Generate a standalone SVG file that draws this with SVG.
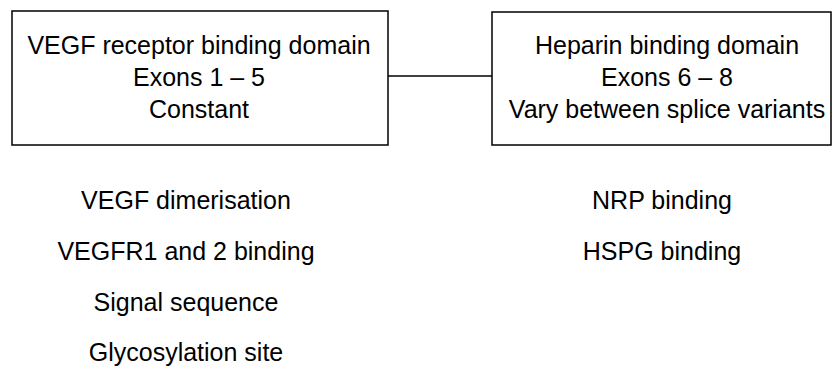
<svg xmlns="http://www.w3.org/2000/svg" width="832" height="367" viewBox="0 0 832 367">
<style>
.box{fill:#fff;stroke:#000;stroke-width:1.5}
.t{font-family:"Liberation Sans",Arial,sans-serif;font-size:25px;fill:#000;text-anchor:middle}
.c{stroke:#000;stroke-width:1.5;fill:none}
</style>
<rect width="832" height="367" fill="#fff"/>
<g id="connectors">
<line class="c" x1="388" y1="76" x2="492" y2="76"/>
</g>
<g id="node-vegf-receptor">
<rect class="box" x="12" y="11" width="376" height="134"/>
<text class="t" x="199" y="54">VEGF receptor binding domain</text>
<text class="t" x="199" y="86">Exons 1 – 5</text>
<text class="t" x="199" y="118">Constant</text>
</g>
<g id="node-heparin">
<rect class="box" x="492" y="12" width="339" height="133"/>
<text class="t" x="667" y="54">Heparin binding domain</text>
<text class="t" x="667" y="86">Exons 6 – 8</text>
<text class="t" x="667" y="118">Vary between splice variants</text>
</g>
<g id="left-list">
<text class="t" x="186" y="209">VEGF dimerisation</text>
<text class="t" x="186" y="260">VEGFR1 and 2 binding</text>
<text class="t" x="186" y="311">Signal sequence</text>
<text class="t" x="186" y="361">Glycosylation site</text>
</g>
<g id="right-list">
<text class="t" x="662" y="209">NRP binding</text>
<text class="t" x="662" y="260">HSPG binding</text>
</g>
</svg>
